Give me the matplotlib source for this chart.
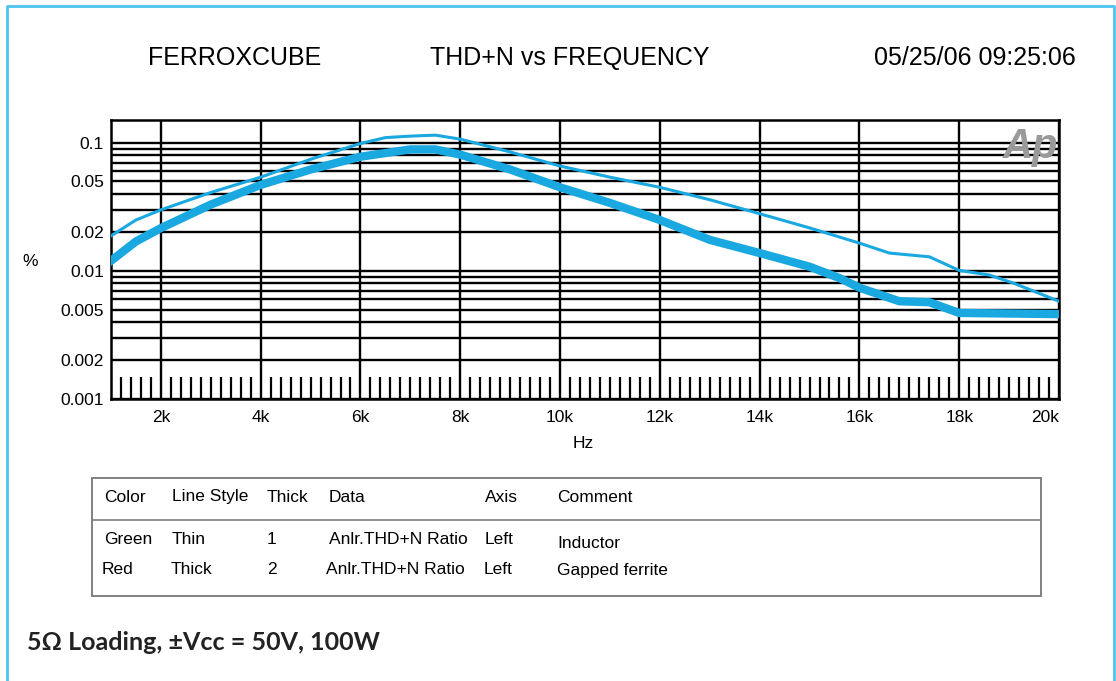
import matplotlib
matplotlib.use('Agg')
import matplotlib.pyplot as plt
from matplotlib.patches import Rectangle
from matplotlib.ticker import FixedLocator, NullFormatter
import numpy as np

''' THD+N vs frequency, inductor vs gapped ferrite '''

# thin line: inductor
freq_thin = [1000, 1500, 2000, 3000, 4000, 5000, 6000, 6500, 7000, 7500, 8000, 9000,
             10000, 11000, 12000, 13000, 14000, 15000, 16000, 16600, 17400, 18000,
             18600, 19100, 20000]
thd_thin = [0.0188, 0.025, 0.030, 0.041, 0.054, 0.0745, 0.099, 0.110, 0.113, 0.115, 0.107,
            0.085, 0.066, 0.054, 0.045, 0.036, 0.028, 0.0217, 0.0165, 0.0138, 0.0129,
            0.0101, 0.0093, 0.008, 0.0058]

# thick line: gapped ferrite
freq_thick = [1000, 1500, 2000, 3000, 4000, 5000, 6000, 7000, 7500, 8000, 9000, 10000,
              11000, 12000, 13000, 14000, 15000, 15600, 16000, 16800, 17400, 18000, 20000]
thd_thick = [0.012, 0.017, 0.0216, 0.033, 0.047, 0.062, 0.078, 0.089, 0.089, 0.081, 0.062,
             0.045, 0.034, 0.025, 0.0175, 0.0138, 0.0108, 0.0088, 0.0074, 0.0058, 0.0057,
             0.0047, 0.0046]

x_ticks = [2000, 4000, 6000, 8000, 10000, 12000, 14000, 16000, 18000, 20000]
x_labels = ['2k', '4k', '6k', '8k', '10k', '12k', '14k', '16k', '18k', '20k']
y_ticks = [0.001, 0.002, 0.005, 0.01, 0.02, 0.05, 0.1]
y_labels = ['0.001', '0.002', '0.005', '0.01', '0.02', '0.05', '0.1']

header = ['Color', 'Line Style', 'Thick', 'Data', 'Axis', 'Comment']
row1 = ['Green', 'Thin', '1', 'Anlr.THD+N Ratio', 'Left', 'Inductor']
row2 = ['Red', 'Thick', '2', 'Anlr.THD+N Ratio', 'Left', 'Gapped ferrite']

blue = '#1aa8e0'
W, H = 1116, 681

fig = plt.figure(figsize=(11.16, 6.81), dpi=100)
plt.rcParams['font.family'] = ['Liberation Sans', 'DejaVu Sans']

def fx(px):
    return px / W

def fy(py):
    return 1 - py / H

ax = fig.add_axes([fx(111), fy(399), fx(1059) - fx(111), fy(120) - fy(399)])
ax.set_yscale('log')
ax.set_xlim(1000, 20000)
ax.set_ylim(0.001, 0.151)

# grid
ax.xaxis.set_major_locator(FixedLocator(x_ticks))
ax.set_xticklabels(x_labels, fontsize=12.5)
ax.get_xticklabels()[-1].set_ha('right')
minor_x = [f for f in range(1200, 20000, 200) if f % 2000 != 0]
ax.xaxis.set_minor_locator(FixedLocator(minor_x))
ax.tick_params(axis='x', which='minor', direction='in', length=16, width=1.6, color='k')
ax.tick_params(axis='x', which='major', length=0, pad=8)

ax.yaxis.set_major_locator(FixedLocator(y_ticks))
ax.set_yticklabels(y_labels, fontsize=12.5)
minor_y = [m * d for d in (0.001, 0.01, 0.1) for m in range(2, 10) if m not in (2, 5) and m * d < 0.15]
ax.yaxis.set_minor_locator(FixedLocator(minor_y))
ax.yaxis.set_minor_formatter(NullFormatter())
ax.tick_params(axis='y', which='both', length=0, pad=5)

ax.grid(True, axis='y', which='both', color='k', lw=1.7)
ax.grid(True, axis='x', which='major', color='k', lw=1.7)
for s in ax.spines.values():
    s.set_linewidth(1.8)

ax.plot(freq_thin, thd_thin, color=blue, lw=2.2, zorder=3)
ax.plot(freq_thick, thd_thick, color=blue, lw=6, zorder=3, solid_joinstyle='round')

ax.text(0.999, 0.975, 'Ap', transform=ax.transAxes, ha='right', va='top', fontsize=30,
        fontweight='bold', style='italic', color='#9a9a9a', zorder=4)

fig.text(fx(22), fy(261), '%', fontsize=12.5, ha='left', va='center')
fig.text(fx(583), fy(444), 'Hz', fontsize=12.5, ha='center', va='center')

# titles
fig.text(fx(235), fy(58), 'FERROXCUBE', fontsize=18, ha='center', va='center')
fig.text(fx(570), fy(58), 'THD+N vs FREQUENCY', fontsize=18, ha='center', va='center')
fig.text(fx(975), fy(58), '05/25/06 09:25:06', fontsize=18, ha='center', va='center')

# legend table
fig.patches.append(Rectangle((fx(92), fy(596)), fx(1041) - fx(92), fy(478) - fy(596),
                             transform=fig.transFigure, fill=False, ec='#777777', lw=1.3))
fig.add_artist(plt.Line2D([fx(92), fx(1041)], [fy(520), fy(520)], color='#888888', lw=1.3))
col_x = [104, 172, 267, 329, 485, 557]
for cx, t in zip(col_x, header):
    fig.text(fx(cx), fy(497), t, fontsize=12.5, ha='left', va='center')
for cx, t in zip(col_x, row1):
    yy = 543 if t == 'Inductor' else 539
    fig.text(fx(cx), fy(yy), t, fontsize=12.5, ha='left', va='center')
for cx, t in zip([102, 171, 267, 326, 484, 557], row2):
    fig.text(fx(cx), fy(570), t, fontsize=12.5, ha='left', va='center')

# caption
fig.text(fx(27), fy(643), '5\u03a9 Loading, \u00b1Vcc = 50V, 100W', fontsize=18,
         fontweight='bold', family=['Lato', 'DejaVu Sans'], ha='left', va='center',
         color='#222222')

# frame
fig.add_artist(plt.Line2D([fx(7), fx(7), fx(1114), fx(1114)], [fy(700), fy(6), fy(6), fy(700)],
                          color='#4cc4ef', lw=2))

fig.savefig('out.png', dpi=100)
